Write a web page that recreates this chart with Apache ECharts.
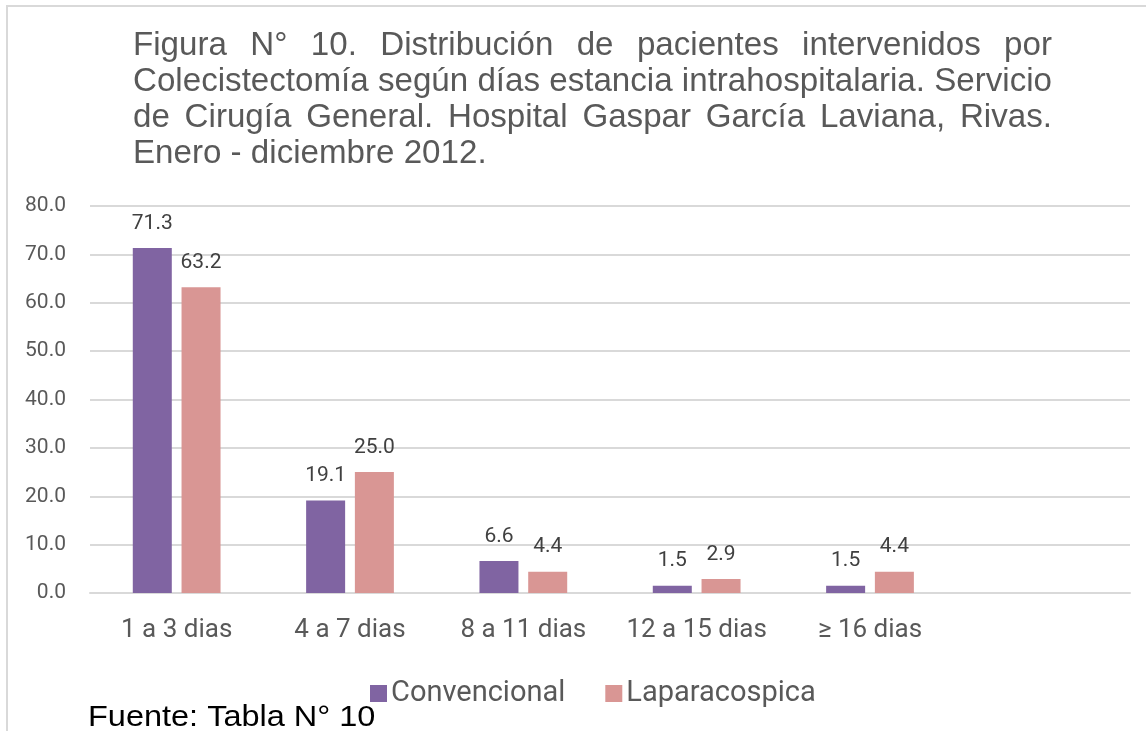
<!DOCTYPE html>
<html>
<head>
<meta charset="utf-8">
<script src="https://cdn.jsdelivr.net/npm/echarts@6/dist/echarts.min.js"></script>
<style>
  html, body { margin: 0; padding: 0; background: #fff; }
  #chart { width: 1146px; height: 731px; }
</style>
</head>
<body>
<div id="chart"></div>
<script type="text/javascript">
    var categorias = ['1 a 3 dias', '4 a 7 dias', '8 a 11 dias', '12 a 15 dias', '\u2265 16 dias', ''];
    var convencional = [71.3, 19.1, 6.6, 1.5, 1.5, null];
    var laparacospica = [63.2, 25.0, 4.4, 2.9, 4.4, null];
    var tituloLineas = [
        'Figura N\u00b0 10. Distribuci\u00f3n de pacientes intervenidos por',
        'Colecistectom\u00eda seg\u00fan d\u00edas estancia intrahospitalaria. Servicio',
        'de Cirug\u00eda General. Hospital Gaspar Garc\u00eda Laviana, Rivas.',
        'Enero - diciembre 2012.'
    ];

    var myChart = echarts.init(document.getElementById('chart'));

    // titulo justificado: cada palabra se coloca a mano
    var tFont = '33px "Liberation Sans", Arial, sans-serif';
    var ctx = document.createElement('canvas').getContext('2d');
    ctx.font = tFont;
    var tLeft = 133, tRight = 1052, tTop = 29, tStep = 36;
    // la linea 2 es la mas llena: define el estiramiento horizontal
    var escala = (tRight - tLeft) / ctx.measureText(tituloLineas[1]).width;
    var textos = [];
    tituloLineas.forEach(function (linea, i) {
        var palabras = linea.split(' ');
        var ancho = 0;
        palabras.forEach(function (p) { ancho += ctx.measureText(p).width * escala; });
        var esp = ctx.measureText(' ').width * escala;
        if (i < tituloLineas.length - 1) {
            esp = (tRight - tLeft - ancho) / (palabras.length - 1);
        }
        var x = tLeft;
        palabras.forEach(function (p) {
            textos.push({
                type: 'text', x: x, y: tTop + i * tStep, scaleX: escala,
                style: { text: p, font: tFont, fill: '#595959' }
            });
            x += ctx.measureText(p).width * escala + esp;
        });
    });
    textos.push({
        type: 'text', x: 88, y: 703, scaleX: 1.12,
        style: { text: 'Fuente: Tabla N\u00b0 10', font: '29px "Liberation Sans", Arial, sans-serif', fill: '#000' }
    });
    textos.push({
        type: 'rect', shape: { x: 7, y: 6, width: 1200, height: 800 },
        style: { fill: 'none', stroke: '#d9d9d9', lineWidth: 2 }, z: -1
    });

    var etiqueta = {
        show: true, position: 'top', distance: 14,
        fontFamily: 'Roboto', fontSize: 21, color: '#404040',
        formatter: function (p) { return p.value.toFixed(1); }
    };

    var option = {
        animation: false,
        color: ['#8064A2', '#D99694'],
        grid: { left: 90, right: 16, top: 206, bottom: 138 },
        legend: {
            left: 365, top: 674,
            itemWidth: 17, itemHeight: 17, itemGap: 40,
            icon: 'rect',
            textStyle: { fontFamily: 'Roboto', fontSize: 29, color: '#595959', padding: [0, 0, 0, -1] },
            data: ['Convencional', 'Laparacospica']
        },
        xAxis: {
            type: 'category',
            data: categorias,
            axisLine: { lineStyle: { color: '#d9d9d9', width: 2 } },
            axisTick: { show: false },
            axisLabel: { interval: 0, fontFamily: 'Roboto', fontSize: 26, color: '#595959', margin: 24 }
        },
        yAxis: {
            type: 'value', min: 0, max: 80, interval: 10,
            axisLine: { show: false },
            axisTick: { show: false },
            splitLine: { lineStyle: { color: '#d9d9d9', width: 2 } },
            axisLabel: {
                fontFamily: 'Roboto', fontSize: 21, color: '#595959', margin: 24,
                formatter: function (v) { return v.toFixed(1); }
            }
        },
        series: [
            {
                name: 'Convencional', type: 'bar', data: convencional,
                barWidth: 39, barGap: '25%', label: etiqueta
            },
            {
                name: 'Laparacospica', type: 'bar', data: laparacospica,
                barWidth: 39, label: etiqueta
            }
        ],
        graphic: textos
    };
    myChart.setOption(option);
</script>
</body>
</html>
